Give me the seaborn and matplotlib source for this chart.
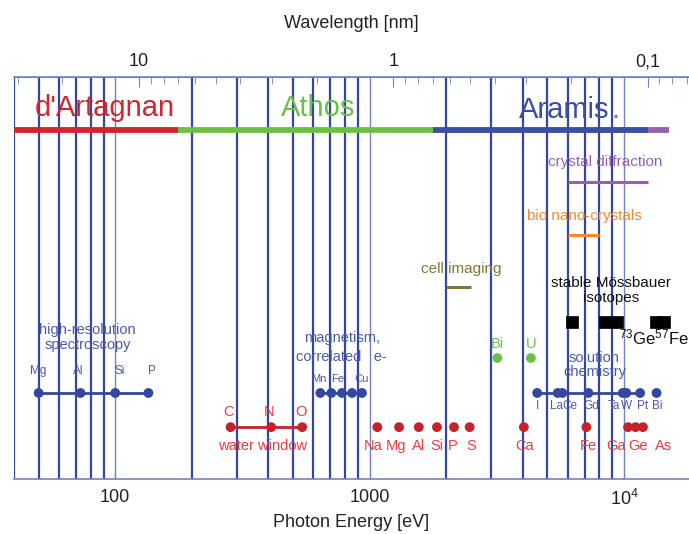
import numpy as np
import pandas as pd
import matplotlib
matplotlib.use("Agg")
import matplotlib.pyplot as plt
from matplotlib.ticker import FixedLocator, FuncFormatter, NullFormatter, LogLocator
import seaborn as sns

sns.set_style("white")
plt.rcParams["font.family"] = ["Liberation Sans", "DejaVu Sans"]
plt.rcParams["mathtext.fontset"] = "custom"
plt.rcParams["mathtext.rm"] = "Liberation Sans"
plt.rcParams["mathtext.default"] = "regular"

HC = 1239.84  # eV * nm

# Beamline ranges (eV)
beamline_names = ["d'Artagnan", "Athos", "Aramis", ""]
beamline_edges = [40, 177, 1770, 12400, 15000]

# Application ranges (eV)
crystal_diffraction = [6000, 12400]
bio_nano_crystals = [6000, 8000]
cell_imaging = [2000, 2500]

# Moessbauer isotopes (eV)
mossbauer_energies = [6240, 8400, 9400, 13300, 14400]

# High-resolution spectroscopy L-edges (eV)
hires_elements = ["Mg", "Al", "Si", "P"]
hires_energies = [50, 73, 100, 135]

# Magnetism L-edges (eV)
magn_elements = ["Mn", "Fe", "Co", "Ni", "Cu"]
magn_energies = [640, 707, 778, 853, 933]
magn_labels = ["Mn", "Fe", "", "", "Cu"]

# Water window K-edges (eV)
water_elements = ["C", "N", "O"]
water_energies = [284, 410, 543]

# K-edges of light/medium elements (eV)
k_elements = ["Na", "Mg", "Al", "Si", "P", "S", "Ca", "Fe", "Ga", "Ge", "As"]
k_energies = [1072, 1305, 1560, 1839, 2146, 2472, 4038, 7112, 10367, 11103, 11867]

# Heavy element M-edges (eV)
m_elements = ["Bi", "U"]
m_energies = [3177, 4303]

# Solution chemistry L-edges (eV)
sol_elements = ["I", "La", "Ce", "Gd", "Ta", "W", "Pt", "Bi"]
sol_energies = [4557, 5483, 5723, 7243, 9881, 10207, 11564, 13419]

BLUE = "#3447a0"
BLUE_TXT = "#4a5aaa"
THIN = "#7482c4"
RED = "#d0262e"
RED_DOT = "#c4232b"
RED_TXT = "#ee3a3f"
GREEN = "#6cc04a"
PURPLE = "#9b5fb0"
ORANGE = "#f7892b"
OLIVE = "#857534"

fig = plt.figure(figsize=(6.89, 5.34), dpi=100)
ax = fig.add_axes([14 / 689, 1 - 479 / 534, 675 / 689, 402 / 534])
ax.set_xscale("log")
ax.set_xlim(40, 18000)
ax.set_ylim(0, 100)

# grid of vertical lines at 2..9 x each decade, thin lines at decades
minor = [m * 10 ** d for d in (1, 2, 3) for m in range(2, 10)]
minor = [v for v in minor if 40 < v < 18000]
for v in minor:
    ax.axvline(v, color=BLUE, lw=1.6, zorder=1)
for v in (100, 1000, 10000):
    ax.axvline(v, color=THIN, lw=1.0, zorder=1)

# beamline bars
bar_cols = [RED, "#6cc04a", "#3a4ea6", PURPLE]
for i, c in enumerate(bar_cols):
    seg = pd.DataFrame({"E": beamline_edges[i:i + 2], "y": [86.8, 86.8]})
    sns.lineplot(data=seg, x="E", y="y", color=c, lw=4.2, ax=ax, zorder=3,
                 solid_capstyle="butt")
ax.text(91, 92.3, "d'Artagnan", color=RED, fontsize=21, ha="center", va="center")
ax.text(630, 92.3, "Athos", color="#6cc04a", fontsize=21, ha="center", va="center")
ax.text(5800, 91.8, "Aramis", color="#3a4ea6", fontsize=21, ha="center", va="center")
ax.text(9250, 91.8, ".", color=PURPLE, fontsize=21, ha="center", va="center")


def range_line(rng, y, color, label, ty, tx=None):
    d = pd.DataFrame({"E": rng, "y": [y, y]})
    sns.lineplot(data=d, x="E", y="y", color=color, lw=2.2, ax=ax, zorder=3,
                 solid_capstyle="butt")
    if tx is None:
        tx = np.sqrt(rng[0] * rng[1])
    ax.text(tx, ty, label, color=color, fontsize=11, ha="center", va="center")


range_line(crystal_diffraction, 73.9, PURPLE, "crystal diffraction", 78.9, tx=8400)
range_line(bio_nano_crystals, 60.7, ORANGE, "bio nano-crystals", 65.4, tx=7000)
range_line(cell_imaging, 47.8, OLIVE, "cell imaging", 52.2, tx=2300)

# Moessbauer isotopes
ax.text(8900, 47.0, "stable Mössbauer\nisotopes", color="#111111", fontsize=11,
        ha="center", va="center", linespacing=1.1)
sns.scatterplot(x=mossbauer_energies, y=[39.1] * len(mossbauer_energies), marker="s",
                s=75, color="black", edgecolor="black", linewidth=0.5, ax=ax, zorder=4)
ax.text(17900, 35.1, r"$^{73}$Ge$^{57}$Fe", color="#111111", fontsize=12,
        ha="right", va="center")

# high-resolution spectroscopy
sns.lineplot(x=hires_energies, y=[21.4] * 4, color=BLUE, lw=2, ax=ax, zorder=3)
sns.scatterplot(x=hires_energies, y=[21.4] * 4, color=BLUE, s=50, edgecolor="none",
                ax=ax, zorder=4)
ax.text(78, 35.1, "high-resolution\nspectroscopy", color=BLUE_TXT, fontsize=10.5,
        ha="center", va="center", linespacing=1.1)
for el, e, dx in zip(hires_elements, hires_energies, [1.0, 0.98, 1.04, 1.03]):
    ax.text(e * dx, 26.9, el, color=BLUE_TXT, fontsize=8.5, ha="center", va="center")

# magnetism
sns.lineplot(x=magn_energies, y=[21.4] * 5, color=BLUE, lw=2, ax=ax, zorder=3)
sns.scatterplot(x=magn_energies, y=[21.4] * 5, color=BLUE, s=50, edgecolor="none",
                ax=ax, zorder=4)
ax.text(776, 35.0, "magnetism,", color=BLUE_TXT, fontsize=10.5, ha="center", va="center")
ax.text(776, 30.3, "correlated   e-", color=BLUE_TXT, fontsize=10.5, ha="center",
        va="center")
for el, e, dx in zip(magn_labels, magn_energies, [0.99, 1.06, 1, 1, 1.0]):
    if el:
        ax.text(e * dx, 24.9, el, color=BLUE_TXT, fontsize=8, ha="center", va="center")

# water window
sns.lineplot(x=water_energies, y=[12.9] * 3, color=RED_DOT, lw=2, ax=ax, zorder=3)
sns.scatterplot(x=water_energies, y=[12.9] * 3, color=RED_DOT, s=50, edgecolor="none",
                ax=ax, zorder=4)
for el, e in zip(water_elements, water_energies):
    ax.text(e * 0.985, 16.7, el, color=RED_TXT, fontsize=10.5, ha="center", va="center")
ax.text(379, 8.2, "water window", color=RED_TXT, fontsize=10.5, ha="center", va="center")

# K-edges
sns.scatterplot(x=k_energies, y=[12.9] * len(k_energies), color=RED_DOT, s=50,
                edgecolor="none", ax=ax, zorder=4)
k_shift = [0.96, 0.97, 1.0, 1.0, 0.99, 1.01, 1.01, 1.02, 0.9, 1.02, 1.2]
for el, e, dx in zip(k_elements, k_energies, k_shift):
    ax.text(e * dx, 8.2, el, color=RED_TXT, fontsize=10.5, ha="center", va="center")

# heavy element M-edges
sns.scatterplot(x=m_energies, y=[30.1] * 2, color=GREEN, s=50, edgecolor="none",
                ax=ax, zorder=4)
for el, e in zip(m_elements, m_energies):
    ax.text(e, 33.6, el, color=GREEN, fontsize=10.5, ha="center", va="center")

# solution chemistry
sns.lineplot(x=sol_energies[:7], y=[21.4] * 7, color=BLUE, lw=2, ax=ax, zorder=3)
sns.scatterplot(x=sol_energies, y=[21.4] * len(sol_energies), color=BLUE, s=50,
                edgecolor="none", ax=ax, zorder=4)
ax.text(7650, 28.4, "solution\nchemistry", color=BLUE_TXT, fontsize=10.5,
        ha="center", va="center", linespacing=1.05)
sol_shift = [1.0, 0.99, 1.07, 1.03, 0.92, 1.0, 1.02, 1.01]
for el, e, dx in zip(sol_elements, sol_energies, sol_shift):
    ax.text(e * dx, 18.2, el, color=BLUE_TXT, fontsize=8.5, ha="center", va="center")

# axes styling
for s in ("left", "right"):
    ax.spines[s].set_visible(False)
ax.axvline(40, color=BLUE, lw=1.6, zorder=1)
ax.spines["bottom"].set_color(THIN)
ax.spines["bottom"].set_linewidth(1.2)
ax.spines["top"].set_color(THIN)
ax.spines["top"].set_linewidth(1.2)
ax.set_yticks([])
ax.set_ylabel("")
ax.xaxis.set_major_locator(FixedLocator([100, 1000, 10000]))
ax.xaxis.set_major_formatter(FuncFormatter(
    lambda v, p: {100: "100", 1000: "1000", 10000: r"$10^4$"}.get(int(round(v)), "")))
ax.xaxis.set_minor_formatter(NullFormatter())
ax.tick_params(axis="x", which="both", direction="in", colors=THIN, labelcolor="#222222",
               labelsize=13, top=False, bottom=True)
ax.tick_params(axis="x", which="major", length=4, pad=7)
ax.tick_params(axis="x", which="minor", length=3)
ax.set_xlabel("Photon Energy [eV]", fontsize=13, color="#222222", labelpad=4)

sec = ax.secondary_xaxis("top", functions=(lambda e: HC / e, lambda l: HC / l))
sec.xaxis.set_major_locator(FixedLocator([10, 1, 0.1]))
sec.xaxis.set_minor_locator(LogLocator(base=10, subs=np.arange(2, 10)))
sec.xaxis.set_major_formatter(FuncFormatter(
    lambda v, p: {10: "10", 1: "1", 0.1: "0,1"}.get(round(v, 3), "")))
sec.xaxis.set_minor_formatter(NullFormatter())
sec.tick_params(axis="x", which="both", direction="in", colors=THIN, labelcolor="#222222",
                labelsize=13)
sec.tick_params(axis="x", which="major", length=7, pad=5)
sec.tick_params(axis="x", which="minor", length=5)
sec.spines["top"].set_color(THIN)
sec.set_xlabel("Wavelength [nm]", fontsize=13, color="#222222", labelpad=18)

fig.savefig("out.png", dpi=100)
